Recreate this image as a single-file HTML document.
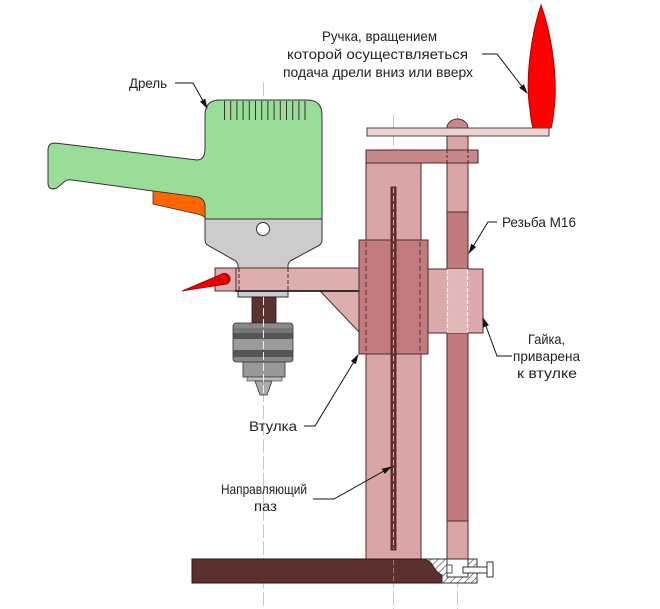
<!DOCTYPE html>
<html><head><meta charset="utf-8"><style>
html,body{margin:0;padding:0;background:#fff;}
svg{display:block;}
text{font-family:"Liberation Sans Narrow","Liberation Sans",sans-serif;font-size:14px;fill:#222;}
</style></head><body>
<svg width="660" height="609" viewBox="0 0 660 609" xmlns="http://www.w3.org/2000/svg">
<defs>
<pattern id="hatch" width="5" height="5" patternUnits="userSpaceOnUse" patternTransform="rotate(45)">
<rect width="5" height="5" fill="#fff"/><line x1="0" y1="0" x2="0" y2="5" stroke="#333" stroke-width="1.2"/>
</pattern>
<marker id="ar" markerWidth="10" markerHeight="8" refX="9" refY="4" orient="auto" markerUnits="userSpaceOnUse">
<path d="M0,1 L10,4 L0,7 Z" fill="#111"/>
</marker>
</defs>

<!-- center lines -->
<g stroke="#c8c8c8" stroke-width="1" stroke-dasharray="14,3" fill="none">
<line x1="263.5" y1="82" x2="263.5" y2="609"/>
<line x1="393.5" y1="115" x2="393.5" y2="609"/>
<line x1="457.5" y1="115" x2="457.5" y2="609"/>
</g>

<!-- red handle -->
<path d="M541,5 C531,35 525,80 530,110 C531,120 532,125 533,128 L551,128 C552,125 553,120 554,110 C558,80 552,35 541,5 Z" fill="#ff0000" stroke="#aa0000" stroke-width="1"/>

<!-- knob dome -->
<path d="M447,128 A10.5,9 0 0 1 468,128 Z" fill="#c8878a" stroke="#4a2a2a" stroke-width="1"/>
<!-- handle bar -->
<rect x="367" y="128" width="182" height="8" fill="#efd3d3" stroke="#444" stroke-width="1"/>

<!-- rod -->
<rect x="447" y="136" width="21" height="76" fill="#d9a5a7" stroke="#4a2a2a" stroke-width="1"/>
<rect x="447" y="212" width="21" height="309" fill="#c07a7e" stroke="#4a2a2a" stroke-width="1"/>
<rect x="447" y="521" width="21" height="38" fill="#d9a5a7" stroke="#4a2a2a" stroke-width="1"/>

<!-- column -->
<rect x="366" y="163" width="55" height="396" fill="#d9a5a7" stroke="#4a2a2a" stroke-width="1"/>
<!-- top crossbar -->
<rect x="366" y="150" width="112" height="13" fill="#c8878a" stroke="#4a2a2a" stroke-width="1"/>
<g stroke="#4a2a2a" stroke-dasharray="3,2" stroke-width="1">
<line x1="447" y1="150" x2="447" y2="163"/><line x1="468" y1="150" x2="468" y2="163"/>
</g>

<!-- brace -->
<path d="M320,291 L359,291 L359,332 Z" fill="#dcaeae" stroke="#4a2a2a" stroke-width="1"/>

<!-- drill gray lower part / neck -->
<path d="M205,219 L322,219 L322,240 Q322,244 318,246 L292,260 Q288,262 288,266 L288,297 L238,297 L238,266 Q238,262 234,260 L209,246 Q205,244 205,240 Z" fill="#cccccc" stroke="#333" stroke-width="1"/>

<rect x="215" y="268" width="144" height="23" fill="#dcaeae" stroke="#4a2a2a" stroke-width="1"/>
<line x1="235" y1="291" x2="359" y2="291" stroke="#000" stroke-width="1.6"/>
<line x1="236" y1="268" x2="236" y2="291" stroke="#4a2a2a" stroke-width="1"/>
<g stroke="#4a2a2a" stroke-dasharray="4,2" stroke-width="1">
<line x1="239" y1="268" x2="239" y2="291"/><line x1="288" y1="268" x2="288" y2="291"/>
</g>

<!-- red lever on arm -->
<path d="M182,291 L222,274 A5.5,5.5 0 0 1 227,284 Z" fill="#ee0000" stroke="#990000" stroke-width="0.8"/>
<circle cx="224" cy="279" r="5.5" fill="#ee0000" stroke="#990000" stroke-width="0.8"/>

<!-- bushing -->
<rect x="359" y="240" width="69" height="114" fill="#c27b7f" stroke="#4a2a2a" stroke-width="1"/>
<g stroke="#5a2a2a" stroke-dasharray="5,3" stroke-width="1">
<line x1="366" y1="242" x2="366" y2="352"/><line x1="420" y1="242" x2="420" y2="352"/>
</g>

<!-- nut -->
<rect x="428" y="269" width="55" height="64" fill="#dcaaac" stroke="#4a2a2a" stroke-width="1"/>
<rect x="447" y="269" width="21" height="64" fill="#e2b7b8"/>
<g stroke="#fff" stroke-dasharray="4,2" stroke-width="1.2">
<line x1="447.5" y1="270" x2="447.5" y2="332"/><line x1="467.5" y1="270" x2="467.5" y2="332"/>
</g>

<!-- slot -->
<rect x="391" y="187" width="5" height="363" fill="#6b3535" stroke="#3a1a1a" stroke-width="0.8"/>
<line x1="393.5" y1="188" x2="393.5" y2="549" stroke="#e6c0c0" stroke-width="0.8" stroke-dasharray="5,3"/>

<!-- drill body green -->
<path d="M205,148 L205,115 Q205,100 220,100 L307,100 Q322,100 322,115 L322,219 L205,219 L205,207 Q205,199 198,197 L153,191 L72,180 Q67,179 64,182 L57,188 Q49,191 48,184 L48,150 Q48,143 55,143 L197,160 Q205,160 205,148 Z" fill="#99dd99" stroke="#333" stroke-width="1"/>
<line x1="205" y1="219" x2="322" y2="219" stroke="#333" stroke-width="1"/>
<!-- orange trigger -->
<path d="M153,191 L198,197 Q205,199 205,207 L205,218 Q203,215 197,214 L153,204 Z" fill="#ff6600" stroke="#333" stroke-width="0.8"/>
<!-- vents -->
<g stroke="#333" stroke-width="1">
<line x1="224.5" y1="101" x2="224.5" y2="120"/><line x1="230.7" y1="101" x2="230.7" y2="120"/>
<line x1="236.9" y1="101" x2="236.9" y2="120"/><line x1="243.1" y1="101" x2="243.1" y2="120"/>
<line x1="249.3" y1="101" x2="249.3" y2="120"/><line x1="255.5" y1="101" x2="255.5" y2="120"/>
<line x1="261.7" y1="101" x2="261.7" y2="120"/><line x1="267.9" y1="101" x2="267.9" y2="120"/>
<line x1="274.1" y1="101" x2="274.1" y2="120"/><line x1="280.3" y1="101" x2="280.3" y2="120"/>
<line x1="286.5" y1="101" x2="286.5" y2="120"/><line x1="292.7" y1="101" x2="292.7" y2="120"/>
<line x1="298.9" y1="101" x2="298.9" y2="120"/><line x1="305" y1="101" x2="305" y2="120"/>
</g>
<circle cx="263" cy="229" r="6.5" fill="#fff" stroke="#333" stroke-width="1"/>

<!-- chuck -->
<rect x="252" y="297" width="24" height="26" fill="#5a3232" stroke="#2a1616" stroke-width="0.8"/>
<rect x="233" y="323" width="60" height="39" rx="3" fill="#888" stroke="#333" stroke-width="0.8"/>
<rect x="233.5" y="328" width="59" height="5" fill="#777"/>
<rect x="233.5" y="333" width="59" height="6" fill="#555"/>
<rect x="233.5" y="339" width="59" height="11" fill="#9a9a9a"/>
<rect x="233.5" y="350" width="59" height="7" fill="#555"/>
<rect x="243" y="362" width="42" height="15" fill="#999" stroke="#333" stroke-width="0.8"/>
<rect x="247" y="377" width="35" height="4" fill="#bbb" stroke="#333" stroke-width="0.6"/>
<path d="M255,381 L272,381 L267,395 L260,395 Z" fill="#aaa" stroke="#333" stroke-width="0.8"/>
<line x1="263.5" y1="297" x2="263.5" y2="395" stroke="#eee" stroke-width="1" stroke-dasharray="8,3"/>

<!-- base -->
<path d="M192,559 L423,559 Q430,560 433,566 Q437,573 442,575 L442,583 L192,583 Z" fill="#5c2f2f" stroke="#2a1414" stroke-width="1"/>
<path d="M423,559 L477,559 L477,583 L442,583 L442,575 Q437,573 433,566 Q430,560 423,559 Z" fill="url(#hatch)" stroke="#333" stroke-width="1"/>
<rect x="447" y="559" width="21" height="18" fill="#fff" stroke="#333" stroke-width="1"/>
<rect x="447" y="565" width="5" height="8" fill="#fff" stroke="#333" stroke-width="0.8"/>
<rect x="463" y="567" width="24" height="6" fill="#fff" stroke="#333" stroke-width="1"/>
<rect x="487" y="562" width="6" height="15" fill="#fff" stroke="#333" stroke-width="1"/>
<line x1="393.5" y1="560" x2="393.5" y2="582" stroke="#aa8888" stroke-width="0.8" stroke-dasharray="5,3"/>

<!-- leaders -->
<g stroke="#111" stroke-width="1" fill="none" marker-end="url(#ar)">
<path d="M175,83 L193,83 L207,108"/>
<path d="M482,54 L497,54 L527,93"/>
<path d="M497,222 L488,222 L469,253"/>
<path d="M512,356 L497,356 L483,318"/>
<path d="M304,426 L315,426 L358,355"/>
<path d="M313,499 L334,499 L391,467"/>
</g>

<!-- labels -->
<text x="129" y="88" textLength="38" lengthAdjust="spacingAndGlyphs">Дрель</text>
<text x="322" y="41" textLength="115" lengthAdjust="spacingAndGlyphs">Ручка, вращением</text>
<text x="287" y="59" textLength="181" lengthAdjust="spacingAndGlyphs">которой осуществляеться</text>
<text x="283" y="77" textLength="190" lengthAdjust="spacingAndGlyphs">подача дрели вниз или вверх</text>
<text x="502" y="227" textLength="74" lengthAdjust="spacingAndGlyphs">Резьба М16</text>
<text x="528" y="344" textLength="37" lengthAdjust="spacingAndGlyphs">Гайка,</text>
<text x="513" y="361" textLength="67" lengthAdjust="spacingAndGlyphs">приварена</text>
<text x="517" y="378" textLength="60" lengthAdjust="spacingAndGlyphs">к втулке</text>
<text x="249" y="431" textLength="48" lengthAdjust="spacingAndGlyphs">Втулка</text>
<text x="221" y="494" textLength="86" lengthAdjust="spacingAndGlyphs">Направляющий</text>
<text x="254" y="511" textLength="23" lengthAdjust="spacingAndGlyphs">паз</text>
</svg>
</body></html>
